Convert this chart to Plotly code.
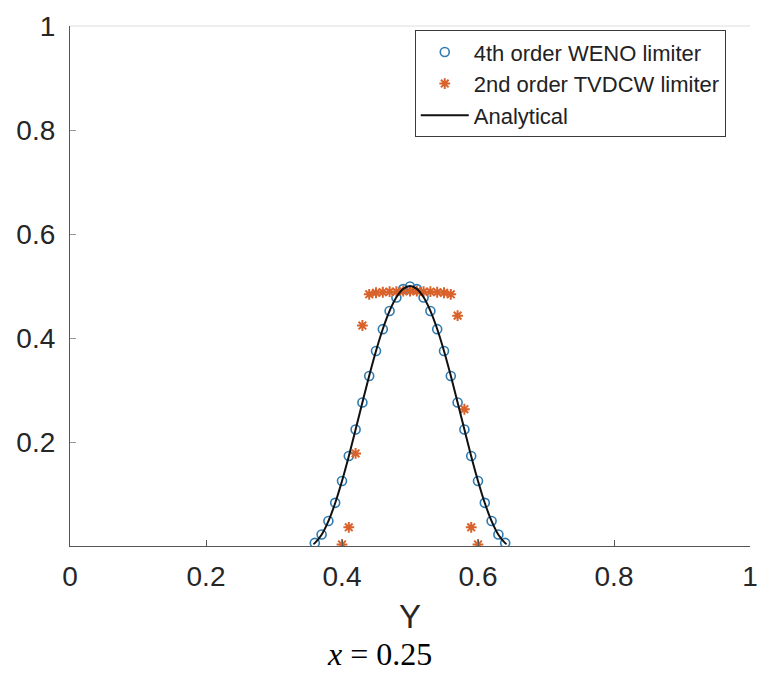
import plotly.graph_objects as go

# ---- data ----
y_weno = [0.36, 0.37, 0.38, 0.39, 0.40, 0.41, 0.42, 0.43, 0.44, 0.45, 0.46, 0.47, 0.48, 0.49, 0.50,
          0.51, 0.52, 0.53, 0.54, 0.55, 0.56, 0.57, 0.58, 0.59, 0.60, 0.61, 0.62, 0.63, 0.64]
v_weno = [0.006, 0.022, 0.048, 0.083, 0.125, 0.173, 0.224, 0.276, 0.327, 0.375, 0.417, 0.452, 0.478, 0.494, 0.499,
          0.494, 0.478, 0.452, 0.417, 0.375, 0.327, 0.276, 0.224, 0.173, 0.125, 0.083, 0.048, 0.022, 0.006]

y_tvd = [0.40, 0.41, 0.42, 0.43, 0.44, 0.45, 0.46, 0.47, 0.48, 0.49, 0.50, 0.51, 0.52, 0.53, 0.54,
         0.55, 0.56, 0.57, 0.58, 0.59, 0.60]
v_tvd = [0.003, 0.036, 0.178, 0.424, 0.484, 0.487, 0.488, 0.489, 0.489, 0.490, 0.490, 0.490, 0.489, 0.489, 0.488,
         0.487, 0.484, 0.443, 0.263, 0.036, 0.003]

y_an = [0.358, 0.36, 0.37, 0.38, 0.39, 0.40, 0.41, 0.42, 0.43, 0.44, 0.45, 0.46, 0.47, 0.48, 0.49, 0.50,
        0.51, 0.52, 0.53, 0.54, 0.55, 0.56, 0.57, 0.58, 0.59, 0.60, 0.61, 0.62, 0.63, 0.64, 0.642]
v_an = [0.0035, 0.0055, 0.0216, 0.0477, 0.0827, 0.125, 0.1727, 0.2239, 0.2761, 0.3273, 0.375, 0.4173, 0.4523, 0.4784, 0.4945, 0.5,
        0.4945, 0.4784, 0.4523, 0.4173, 0.375, 0.3273, 0.2761, 0.2239, 0.1727, 0.125, 0.0827, 0.0477, 0.0216, 0.0055, 0.0035]

x_ticks = [0, 0.2, 0.4, 0.6, 0.8, 1]
x_ticklabels = ["0", "0.2", "0.4", "0.6", "0.8", "1"]
y_ticks = [0.2, 0.4, 0.6, 0.8, 1]
y_ticklabels = ["0.2", "0.4", "0.6", "0.8", "1"]

names = ["4th order WENO limiter", "2nd order TVDCW limiter", "Analytical"]

BLUE = "#2f7bb0"
ORANGE = "#d9622b"
FONT = "Liberation Sans, Arial, sans-serif"

fig = go.Figure()
fig.add_trace(go.Scatter(
    x=y_weno, y=v_weno, mode="markers", name=names[0],
    marker=dict(symbol="circle-open", size=9, color=BLUE, line=dict(width=1.6, color=BLUE)),
))
fig.add_trace(go.Scatter(
    x=y_tvd, y=v_tvd, mode="markers", name=names[1],
    marker=dict(symbol="asterisk-open", size=9, color=ORANGE, line=dict(width=2, color=ORANGE)),
))
fig.add_trace(go.Scatter(
    x=y_an, y=v_an, mode="lines", name=names[2], line_shape="spline",
    line=dict(color="#111111", width=2),
))

fig.update_layout(
    width=769, height=682,
    margin=dict(l=70, r=11, t=18, b=136),
    paper_bgcolor="white", plot_bgcolor="white",
    font=dict(family=FONT, color="#262626"),
    showlegend=True,
    legend=dict(
        x=0.507, y=0.992, xanchor="left", yanchor="top",
        bgcolor="white", bordercolor="#3a3a3a", borderwidth=1,
        font=dict(size=22, color="#222222", family=FONT),
        itemwidth=48, tracegroupgap=0,
    ),
    xaxis=dict(
        range=[0, 1], tickvals=x_ticks, ticktext=x_ticklabels,
        showgrid=False, zeroline=False, showline=True, linecolor="#555555", linewidth=1.2,
        ticks="inside", ticklen=6, tickcolor="#555555",
        tickfont=dict(size=28, color="#262626"), ticklabelstandoff=5,
    ),
    yaxis=dict(
        range=[0, 1], tickvals=y_ticks, ticktext=y_ticklabels,
        showgrid=False, zeroline=False, showline=True, linecolor="#555555", linewidth=1.2,
        ticks="inside", ticklen=6, tickcolor="#999999",
        tickfont=dict(size=28, color="#262626"), ticklabelstandoff=8,
    ),
    shapes=[dict(type="line", xref="paper", yref="paper", x0=0, x1=1, y0=1, y1=1,
                 line=dict(color="#dddddd", width=1))],
    annotations=[
        dict(text="Y", xref="paper", yref="paper", x=0.5, y=-0.135, xanchor="center", yanchor="middle",
             showarrow=False, font=dict(size=33, color="#262626", family=FONT)),
        dict(text="<i>x</i> = 0.25", xref="paper", yref="paper", x=0.455, y=-0.207,
             xanchor="center", yanchor="middle", showarrow=False,
             font=dict(size=32, color="#000000", family="Liberation Serif, DejaVu Serif, serif")),
    ],
)

fig.write_html("out.html")
